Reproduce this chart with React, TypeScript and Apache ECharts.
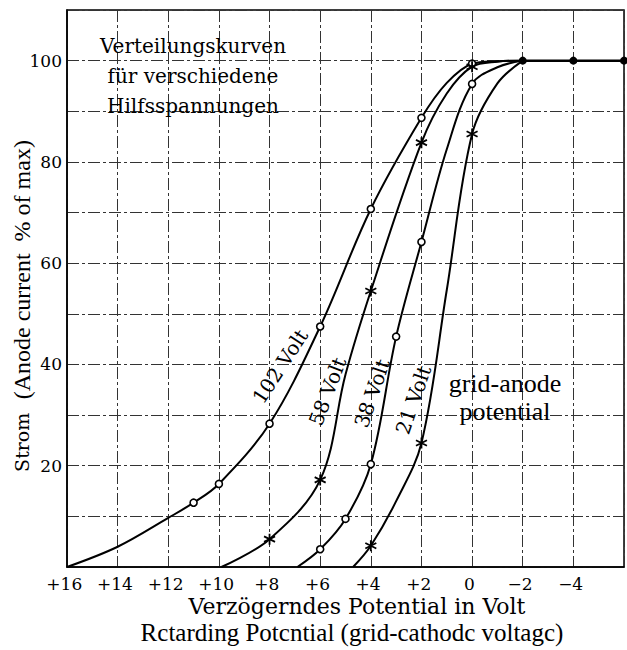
import React, { useEffect, useRef } from "react";
import * as echarts from "echarts";

// ---- axis ranges / ticks ----
const X_MIN = -6;
const X_MAX = 16;
const X_STEP = 2;
const Y_MIN = 0;
const Y_MAX = 110;
const Y_STEP = 10;
const Y_LABELS = [20, 40, 60, 80, 100];

// ---- curves (x = retarding potential in V, y = % of max current) ----
// mark: 1 = measured point drawn with a symbol, 0 = curve shape only
const v102X = [16, 14, 12, 11, 10, 8, 6, 4, 2, 1, 0, -1, -2];
const v102Y = [0, 4, 9.7, 12.7, 16.4, 28.3, 47.5, 70.7, 88.7, 95.6, 99.4, 99.9, 100];
const v102M = [0, 0, 0, 1, 1, 1, 1, 1, 1, 0, 1, 0, 0];

const v58X = [9.9, 8, 6, 5, 4, 2, 1, 0, -1, -2];
const v58Y = [0, 5.5, 17.2, 38, 54.5, 83.8, 93.5, 98.8, 99.8, 100];
const v58M = [0, 1, 1, 0, 1, 1, 0, 1, 0, 0];

const v38X = [6.9, 6, 5, 4, 3, 2, 1, 0, -1, -2];
const v38Y = [0, 3.5, 9.5, 20.3, 45.5, 64.2, 82.5, 95.4, 98.7, 100];
const v38M = [0, 1, 1, 1, 1, 1, 0, 1, 0, 0];

const v21X = [4.7, 4, 3, 2, 1, 0, -1, -2];
const v21Y = [0, 4.2, 13, 24.5, 54.7, 85.5, 95.5, 100];
const v21M = [0, 1, 0, 1, 0, 1, 0, 0];

// common saturation plateau
const satX = [-2, -4, -6];
const satY = [100, 100, 100];

// ---- texts ----
const titleLines = ["Verteilungskurven", "für verschiedene", "Hilfsspannungen"];
const curveNames = ["102 Volt", "58 Volt", "38 Volt", "21 Volt"];
// label anchor in data coordinates and rotation in degrees
const curveLabelPos = [
  [7.58, 39.6, 57],
  [5.71, 34.7, 69],
  [3.95, 34.3, 71],
  [2.32, 33.0, 71],
];
const xTitle1 = "Verzögerndes Potential in Volt";
const xTitle2 = "Rctarding Potcntial (grid-cathodc voltagc)";
const yTitleA = "Strom";
const yTitleB = "(Anode current  % of max)";
const noteLines = ["grid-anode", "potential"];

const STAR = "path://M5,0L5,10M0.67,2.5L9.33,7.5M0.67,7.5L9.33,2.5";

function build(xs: number[], ys: number[], ms: number[]) {
  return xs.map((x, i) =>
    ms[i] ? { value: [x, ys[i]] } : { value: [x, ys[i]], symbol: "none" }
  );
}

const TIMES = '"Liberation Serif", "Times New Roman", serif';
const CENTURY = '"DejaVu Serif", serif';

export default function App() {
  const ref = useRef<HTMLDivElement>(null);

  useEffect(() => {
    if (!ref.current) return;
    const chart = echarts.init(ref.current, null, { renderer: "svg" });

    const gridLine = {
      show: true,
      lineStyle: { color: "#333", width: 1, type: [12, 3, 3, 3] as any },
    };

    const curve = (
      name: string,
      data: any[],
      symbol: string,
      size: number,
      fill: string,
      bw: number
    ) => ({
      type: "line",
      name,
      data,
      smooth: 0.35,
      symbol,
      symbolSize: size,
      showSymbol: true,
      clip: false,
      lineStyle: { color: "#000", width: 2 },
      itemStyle: { color: fill, borderColor: "#000", borderWidth: bw },
      z: 5,
    });

    const option: any = {
      animation: false,
      backgroundColor: "#fff",
      grid: {
        left: 67,
        top: 10,
        right: -2,
        bottom: 83,
        show: true,
        borderColor: "#000",
        borderWidth: 1.5,
        backgroundColor: "transparent",
      },
      xAxis: {
        type: "value",
        min: X_MIN,
        max: X_MAX,
        interval: X_STEP,
        inverse: true,
        axisLine: { show: true, onZero: false, lineStyle: { color: "#000", width: 1.5 } },
        axisTick: { show: false },
        axisLabel: {
          margin: 8,
          color: "#000",
          fontFamily: CENTURY,
          fontSize: 17,
          formatter: (v: number) =>
            v === X_MIN ? "" : v > 0 ? "+" + v + " " : v < 0 ? "\u2212" + -v + " " : "0 ",
        },
        splitLine: gridLine,
      },
      yAxis: {
        type: "value",
        min: Y_MIN,
        max: Y_MAX,
        interval: Y_STEP,
        axisLine: { show: true, onZero: false, lineStyle: { color: "#000", width: 1.5 } },
        axisTick: { show: false },
        axisLabel: {
          margin: 5,
          color: "#000",
          fontFamily: CENTURY,
          fontSize: 17,
          formatter: (v: number) => (Y_LABELS.includes(v) ? String(v) : ""),
        },
        splitLine: gridLine,
      },
      series: [
        curve("102 Volt", build(v102X, v102Y, v102M), "circle", 7, "#fff", 1.6),
        curve("58 Volt", build(v58X, v58Y, v58M), STAR, 11, "#000", 1.8),
        curve("38 Volt", build(v38X, v38Y, v38M), "circle", 7, "#fff", 1.6),
        curve("21 Volt", build(v21X, v21Y, v21M), STAR, 11, "#000", 1.8),
        {
          type: "line",
          name: "saturation",
          data: satX.map((x, i) => [x, satY[i]]),
          symbol: "circle",
          symbolSize: 8,
          clip: false,
          lineStyle: { color: "#000", width: 2.5 },
          itemStyle: { color: "#000" },
          z: 6,
        },
      ],
    };

    chart.setOption(option);

    const px = (x: number, y: number) =>
      chart.convertToPixel({ gridIndex: 0 }, [x, y]) as number[];

    const graphics: any[] = [];
    curveNames.forEach((t, i) => {
      const [dx, dy, rot] = curveLabelPos[i];
      const [gx, gy] = px(dx, dy);
      graphics.push({
        type: "text",
        x: gx,
        y: gy,
        rotation: (rot * Math.PI) / 180,
        style: {
          text: t,
          font: `20px ${CENTURY}`,
          fill: "#000",
          align: "center",
          verticalAlign: "middle",
        },
        z: 10,
      });
    });

    titleLines.forEach((t, i) => {
      graphics.push({
        type: "text",
        x: 193,
        y: 46 + i * 30,
        style: {
          text: t,
          font: `20px ${CENTURY}`,
          fill: "#000",
          align: "center",
          verticalAlign: "middle",
        },
        z: 10,
      });
    });

    noteLines.forEach((t, i) => {
      graphics.push({
        type: "text",
        x: 505,
        y: 383 + i * 28,
        style: {
          text: t,
          font: `26px ${TIMES}`,
          fill: "#000",
          align: "center",
          verticalAlign: "middle",
        },
        z: 10,
      });
    });

    graphics.push({
      type: "text",
      x: 357,
      y: 606,
      style: {
        text: xTitle1,
        font: `22px ${CENTURY}`,
        fill: "#000",
        align: "center",
        verticalAlign: "middle",
      },
    });
    graphics.push({
      type: "text",
      x: 352,
      y: 632,
      style: {
        text: xTitle2,
        font: `25px ${TIMES}`,
        fill: "#000",
        align: "center",
        verticalAlign: "middle",
      },
    });

    graphics.push({
      type: "text",
      x: 22,
      y: 306,
      rotation: Math.PI / 2,
      style: {
        text: `{a|${yTitleA}}    {b|${yTitleB}}`,
        fill: "#000",
        align: "center",
        verticalAlign: "middle",
        rich: {
          a: { font: `19px ${CENTURY}`, fill: "#000" },
          b: { font: `24px ${TIMES}`, fill: "#000" },
        },
      },
    });

    chart.setOption({ graphic: graphics });

    return () => chart.dispose();
  }, []);

  return (
    <div
      ref={ref}
      style={{
        position: "absolute",
        left: 0,
        top: 0,
        width: 627,
        height: 650,
        background: "#fff",
      }}
    />
  );
}
